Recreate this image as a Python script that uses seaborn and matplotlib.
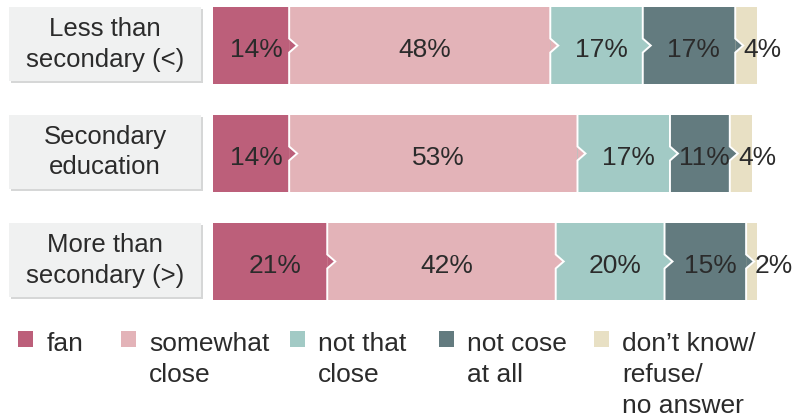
import matplotlib
matplotlib.use("Agg")
import matplotlib.pyplot as plt
import seaborn as sns
import numpy as np
from matplotlib.patches import Rectangle, Polygon

# --- data -------------------------------------------------------------
groups = ["Less than\nsecondary (<)", "Secondary\neducation", "More than\nsecondary (>)"]
categories = ["fan", "somewhat\nclose", "not that\nclose", "not cose\nat all",
              "don\u2019t know/\nrefuse/\nno answer"]
fan = [14, 14, 21]
somewhat_close = [48, 53, 42]
not_that_close = [17, 17, 20]
not_close_at_all = [17, 11, 15]
dont_know = [4, 4, 2]
series = [fan, somewhat_close, not_that_close, not_close_at_all, dont_know]
colors = ["#bc5f7a", "#e3b3b8", "#a2cac5", "#637b7f", "#e8e0c4"]

# --- style ------------------------------------------------------------
sns.set_theme(style="white")
plt.rcParams["font.family"] = ["Liberation Sans", "DejaVu Sans"]
TXT = "#2b2b2b"

W, H = 796, 418
fig = plt.figure(figsize=(W / 100, H / 100), dpi=100)

# pixel-space overlay for the row label boxes and the legend
ov = fig.add_axes([0, 0, 1, 1])
ov.set_xlim(0, W)
ov.set_ylim(H, 0)
ov.axis("off")

# bar area
x0, x1, y0, y1 = 213, 757, 7, 300
ax = fig.add_axes([x0 / W, (H - y1) / H, (x1 - x0) / W, (y1 - y0) / H])

vals = np.array(series, dtype=float)          # shape (5, 3)
cum = np.cumsum(vals, axis=0)
bar_h = 0.713

# stacked bars: draw cumulative totals from the widest down
for j in reversed(range(len(series))):
    sns.barplot(x=cum[j], y=groups, orient="h", color=colors[j], saturation=1,
                width=bar_h, linewidth=0, ax=ax)

ax.set_xlim(0, 100)
half = bar_h / 2
ax.set_ylim(2 + 0.357, -0.357)
ax.axis("off")

# separators with a small arrow pointing into the next segment
px_x = (x1 - x0) / 100.0
px_y = (y1 - y0) / (2 + 2 * 0.357)
tri_w = 8 / px_x
tri_h = 7 / px_y
for i in range(len(groups)):
    for j in range(1, len(series)):
        xb = cum[j - 1][i]
        ax.add_patch(Polygon([(xb, i - tri_h), (xb + tri_w, i), (xb, i + tri_h)],
                             closed=True, facecolor=colors[j - 1], edgecolor="none",
                             zorder=3))
        ax.plot([xb, xb, xb + tri_w, xb, xb],
                [i - half, i - tri_h, i, i + tri_h, i + half],
                color="white", lw=1.4, zorder=4, solid_joinstyle="miter")

# value labels
for i in range(len(groups)):
    for j in range(len(series)):
        v = vals[j][i]
        left = cum[j][i] - v
        if v >= 8:
            ax.text(left + v / 2 + 0.9, i + 0.11, f"{int(v)}%", ha="center",
                    va="baseline", fontsize=19, color=TXT, zorder=5)
        else:
            ax.text(left + tri_w + 0.1, i + 0.11, f"{int(v)}%", ha="left",
                    va="baseline", fontsize=19, color=TXT, zorder=5)

# row label boxes
for i, g in enumerate(groups):
    top = 7 + i * 108
    ov.add_patch(Rectangle((11, top + 2), 192, 74, facecolor="#d6d7d7", edgecolor="none"))
    ov.add_patch(Rectangle((9, top), 192, 74, facecolor="#f0f1f1", edgecolor="none"))
    c = top + 37
    l1, l2 = g.split("\n")
    ov.text(105, c - 8, l1, ha="center", va="baseline", fontsize=18.5, color=TXT)
    ov.text(105, c + 22.5, l2, ha="center", va="baseline", fontsize=18.5, color=TXT)

# legend
sq_x = [18, 121, 290, 439, 594]
tx_x = [47, 149, 318, 467, 622]
for k, lab in enumerate(categories):
    ov.add_patch(Rectangle((sq_x[k], 331), 15, 16, facecolor=colors[k], edgecolor="none"))
    for n, line in enumerate(lab.split("\n")):
        ov.text(tx_x[k], 351 + 31 * n, line, ha="left", va="baseline",
                fontsize=19, color=TXT)

fig.savefig("out.png", dpi=100)
